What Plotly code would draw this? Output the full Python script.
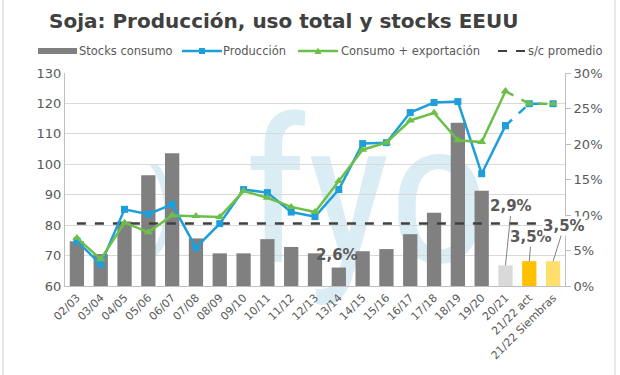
import base64
import plotly.graph_objects as go

categories = ["02/03", "03/04", "04/05", "05/06", "06/07", "07/08", "08/09", "09/10",
              "10/11", "11/12", "12/13", "13/14", "14/15", "15/16", "16/17", "17/18",
              "18/19", "19/20", "20/21", "21/22 act", "21/22 Siembras"]
stocks_pct = [6.3, 4.5, 9.1, 15.6, 18.7, 6.7, 4.6, 4.6, 6.6, 5.5, 4.6, 2.6, 4.9, 5.2,
              7.3, 10.3, 23.0, 13.4, 2.9, 3.5, 3.5]
produccion = [74.8, 67.1, 85.2, 83.6, 86.8, 72.6, 80.5, 91.7, 90.7, 84.3, 82.8, 91.7,
              106.8, 107.1, 117.0, 120.3, 120.6, 96.9, 112.7, 119.9, 119.9]
consumo = [75.8, 68.8, 80.8, 77.7, 83.2, 83.0, 82.7, 91.2, 89.0, 86.0, 84.3, 94.5,
           104.8, 107.1, 114.4, 116.9, 107.9, 107.3, 124.0, 119.9, 119.9]
sc_promedio = 8.8
labels = {"13/14": "2,6%", "20/21": "2,9%", "21/22 act": "3,5%", "21/22 Siembras": "3,5%"}
legend_names = ["Stocks consumo", "Producción", "Consumo + exportación", "s/c promedio"]
title_text = "Soja: Producción, uso total y stocks EEUU"

bar_colors = ["#808080"] * 18 + ["#d9d9d9", "#ffc000", "#ffdf6b"]
BLUE = "#1e9fdc"
GREEN = "#6cc04a"
DARK = "#404040"
FONT = "DejaVu Sans"
TXT = "#595959"

W, H = 620, 375
L, R, T, B = 65, 55, 73, 89
pw, ph = W - L - R, H - T - B


def px(x):
    return (x - L) / pw


def py(y):
    return (H - B - y) / ph


fig = go.Figure()

fig.add_trace(go.Bar(x=categories, y=stocks_pct, name=legend_names[0], yaxis="y",
                     marker=dict(color=bar_colors, line=dict(width=0))))

fig.add_trace(go.Scatter(x=categories, y=[sc_promedio] * len(categories), yaxis="y",
                         mode="lines", name=legend_names[3],
                         line=dict(color=DARK, width=2.5, dash="dash")))

n_solid = categories.index("20/21") + 1
for name, vals, color, symbol, size in [
        (legend_names[1], produccion, BLUE, "square", 7),
        (legend_names[2], consumo, GREEN, "triangle-up", 8)]:
    fig.add_trace(go.Scatter(x=categories[:n_solid], y=vals[:n_solid], yaxis="y2",
                             mode="lines+markers", name=name,
                             line=dict(color=color, width=2.5),
                             marker=dict(symbol=symbol, size=size, color=color)))
    fig.add_trace(go.Scatter(x=categories[n_solid - 1:], y=vals[n_solid - 1:], yaxis="y2",
                             mode="lines+markers", name=name,
                             line=dict(color=color, width=2.5, dash="dash"),
                             marker=dict(symbol=symbol, size=size, color=color)))

# faint logo watermark, placed below the plot
svg = ('<svg xmlns="http://www.w3.org/2000/svg" width="620" height="375" viewBox="0 0 620 375">'
       '<text x="244" y="262" font-family="Liberation Sans Narrow, Roboto Condensed, Open Sans" '
       'font-size="200" fill="#daedf5">fyo</text>'
       '<text x="146" y="238" font-family="Liberation Sans Narrow, Open Sans" '
       'font-size="105" fill="#daedf5">)</text></svg>')
wm = "data:image/svg+xml;base64," + base64.b64encode(svg.encode("utf-8")).decode("ascii")

annotations = []
shapes = []

lab_font = dict(family=FONT, size=15, color=TXT)
offsets = {"20/21": (6, -59, "rgba(0,0,0,0)"), "21/22 act": (2, -24, "rgba(0,0,0,0)"),
           "21/22 Siembras": (11, -35, "white")}
for cat, txt in labels.items():
    i = categories.index(cat)
    if cat in offsets:
        ax, ay, bg = offsets[cat]
        annotations.append(dict(x=cat, y=stocks_pct[i], xref="x", yref="y", text="<b>%s</b>" % txt,
                                showarrow=True, arrowhead=0, arrowwidth=1, arrowcolor="#808080",
                                ax=ax, ay=ay, standoff=0, font=lab_font, bgcolor=bg, borderpad=0))
    else:
        annotations.append(dict(x=cat, y=stocks_pct[i], xref="x", yref="y", text="<b>%s</b>" % txt,
                                showarrow=False, yanchor="middle", yshift=13, xshift=-2,
                                font=lab_font))

# title
annotations.append(dict(text="<b>%s</b>" % title_text,
                        xref="paper", yref="paper", x=px(47), y=py(21),
                        xanchor="left", yanchor="middle", showarrow=False,
                        font=dict(family=FONT, size=20, color=DARK)))

# legend (Excel style, drawn as shapes + text)
ly = 51
leg_font = dict(family=FONT, size=11.5, color=TXT)
shapes.append(dict(type="rect", xref="paper", yref="paper", x0=px(38), x1=px(77),
                   y0=py(ly + 3), y1=py(ly - 3), fillcolor="#808080", line=dict(width=0)))
shapes.append(dict(type="line", xref="paper", yref="paper", x0=px(182), x1=px(222),
                   y0=py(ly), y1=py(ly), line=dict(color=BLUE, width=2.5)))
shapes.append(dict(type="rect", xref="paper", yref="paper", x0=px(199), x1=px(205),
                   y0=py(ly + 3), y1=py(ly - 3), fillcolor=BLUE, line=dict(width=0)))
shapes.append(dict(type="line", xref="paper", yref="paper", x0=px(298), x1=px(338),
                   y0=py(ly), y1=py(ly), line=dict(color=GREEN, width=2.5)))
shapes.append(dict(type="path", xref="paper", yref="paper",
                   path="M %f %f L %f %f L %f %f Z" % (px(314.5), py(ly + 3), px(321.5), py(ly + 3),
                                                       px(318), py(ly - 3.5)),
                   fillcolor=GREEN, line=dict(width=0)))
shapes.append(dict(type="line", xref="paper", yref="paper", x0=px(498), x1=px(527),
                   y0=py(ly), y1=py(ly), line=dict(color=DARK, width=2, dash="dash")))
for name, xl in zip(legend_names, [77, 221, 339, 526]):
    annotations.append(dict(text=name, xref="paper", yref="paper", x=px(xl), y=py(ly),
                            xanchor="left", yanchor="middle", showarrow=False, font=leg_font))

# outer chart border
shapes.append(dict(type="rect", xref="paper", yref="paper",
                   x0=px(3), x1=px(615), y0=py(380), y1=py(-5),
                   line=dict(color="#d0d0d0", width=1), fillcolor="rgba(0,0,0,0)",
                   layer="below"))

fig.update_layout(
    width=W, height=H,
    margin=dict(l=L, r=R, t=T, b=B, pad=0, autoexpand=False),
    paper_bgcolor="white", plot_bgcolor="rgba(0,0,0,0)",
    font=dict(family=FONT, size=13, color=TXT),
    bargap=0.4,
    showlegend=False,
    hovermode=False,
    xaxis=dict(type="category", tickangle=-45, showline=True, linecolor="#bfbfbf",
               linewidth=1, ticks="", tickfont=dict(size=11, color=TXT), showgrid=False,
               range=[-0.5, len(categories) - 0.5], automargin=False, fixedrange=True),
    yaxis=dict(side="right", range=[0, 30], dtick=5, ticksuffix="%", showgrid=False,
               showline=True, linecolor="#bfbfbf", ticks="outside", ticklen=5,
               tickcolor="#bfbfbf", zeroline=False, tickfont=dict(size=13, color=TXT),
               automargin=False, fixedrange=True),
    yaxis2=dict(side="left", overlaying="y", range=[60, 130], dtick=10, showgrid=True,
                gridcolor="#d9d9d9", showline=True, linecolor="#bfbfbf", zeroline=False,
                ticks="", tickfont=dict(size=13, color=TXT), automargin=False,
                fixedrange=True),
    annotations=annotations,
    shapes=shapes,
    images=[dict(source=wm, xref="paper", yref="paper", x=px(0), y=py(0),
                 sizex=W / pw, sizey=H / ph, sizing="stretch", layer="below",
                 xanchor="left", yanchor="top")],
)

fig.write_html("out.html", config={"displayModeBar": False},
               post_script="document.body.style.margin='0';document.body.style.padding='0';")
